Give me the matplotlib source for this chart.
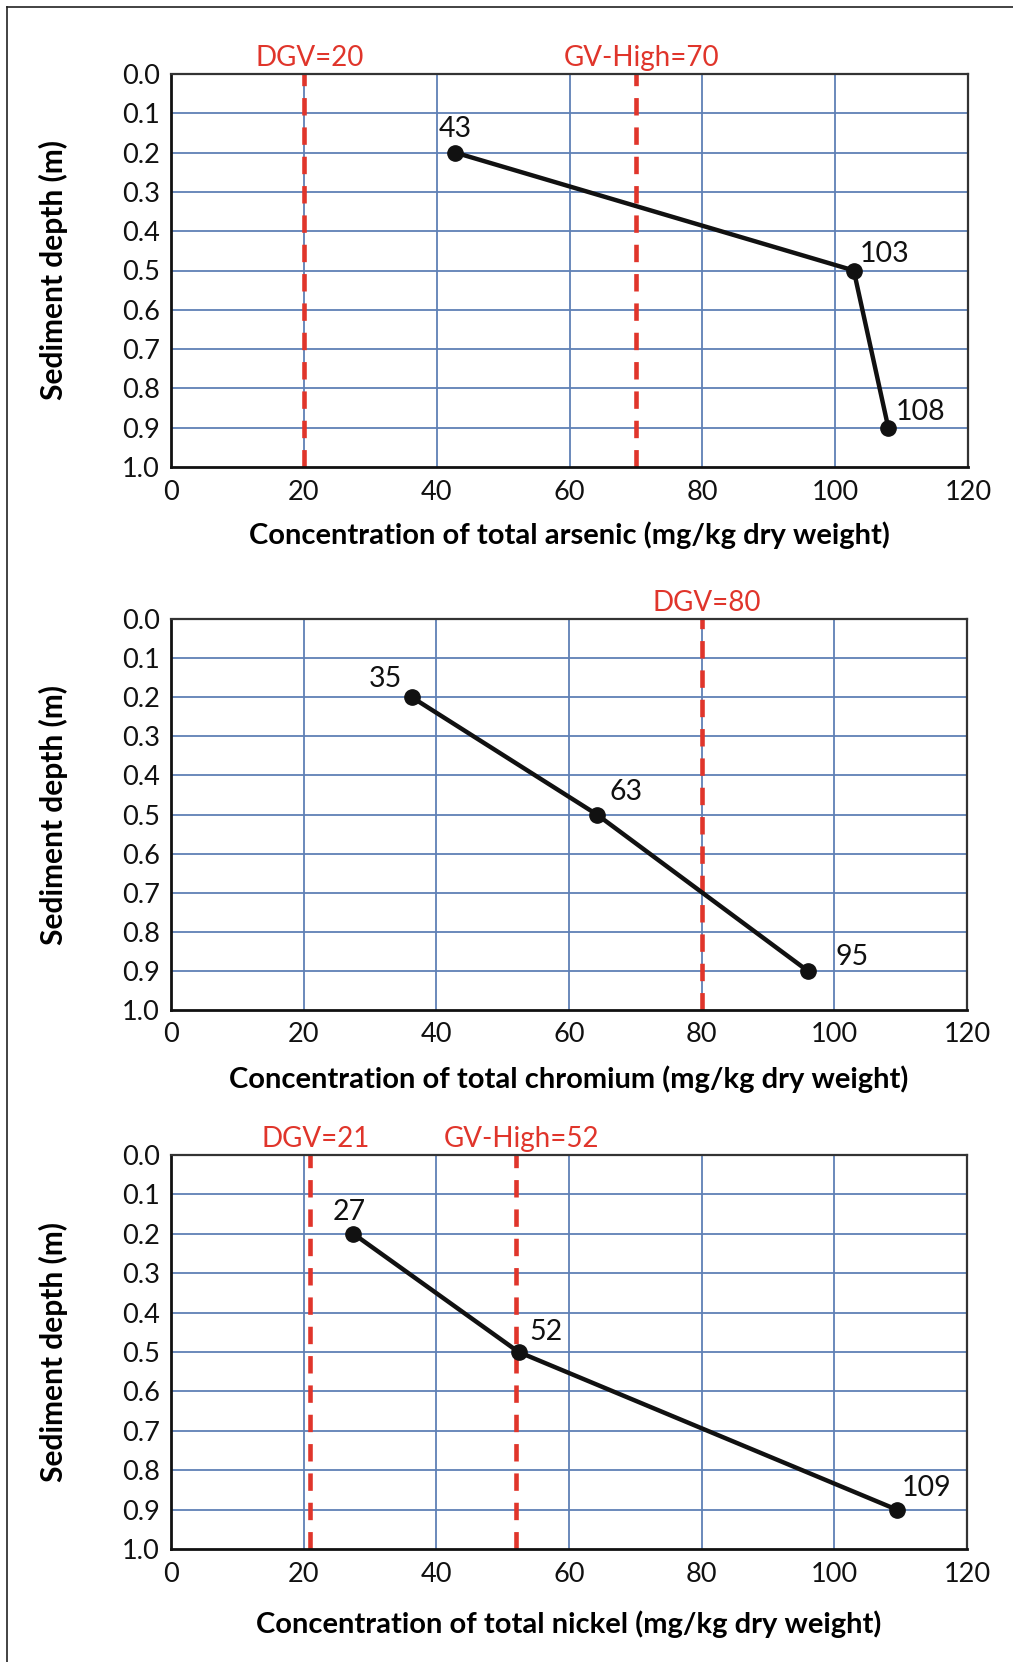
import numpy as np
import matplotlib
matplotlib.use("Agg")
import matplotlib.pyplot as plt
from matplotlib.lines import Line2D

plt.rcParams['font.family'] = ['Lato', 'DejaVu Sans']

# sediment depths (m) of the three samples
depth = [0.2, 0.5, 0.9]

# arsenic
as_x = [42.8, 102.8, 108.0]
as_lab = ['43', '103', '108']
as_guides = [20, 70]
as_guide_lab = ['DGV=20', 'GV-High=70']

# chromium
cr_x = [36.3, 64.2, 96.0]
cr_lab = ['35', '63', '95']
cr_guides = [80]
cr_guide_lab = ['DGV=80']

# nickel
ni_x = [27.5, 52.4, 109.4]
ni_lab = ['27', '52', '109']
ni_guides = [21, 52]
ni_guide_lab = ['DGV=21', 'GV-High=52']

xticks = [0, 20, 40, 60, 80, 100, 120]
yticks = [round(v, 1) for v in np.arange(0, 1.01, 0.1)]

W, H = 1013, 1662
fig = plt.figure(figsize=(W / 100, H / 100), dpi=100)

GRID = '#5f80b5'
RED = '#e0352b'


def px_axes(left, top, right, bottom):
    return fig.add_axes([left / W, 1 - bottom / H, (right - left) / W, (bottom - top) / H])


def panel(ax, xs, labs, offs, guides, glabs, xlabel, lpad):
    ax.set_xlim(0, 120)
    ax.set_ylim(1.0, 0.0)
    ax.set_xticks(xticks)
    ax.set_yticks(yticks)
    ax.set_yticklabels(['%.1f' % v for v in yticks])
    ax.tick_params(length=0, labelsize=19.5, pad=8, colors='#111111')
    ax.tick_params(axis='x', pad=9)
    for v in xticks[1:-1]:
        ax.axvline(v, color=GRID, lw=1.3, zorder=1)
    for v in yticks[1:-1]:
        ax.axhline(v, color=GRID, lw=1.3, zorder=1)
    for s in ax.spines.values():
        s.set_linewidth(1.6)
        s.set_color('#333333')
    ax.spines['left'].set_color('#111111')
    ax.spines['bottom'].set_color('#111111')
    ax.spines['left'].set_linewidth(2)
    ax.spines['bottom'].set_linewidth(2)

    for g, gl in zip(guides, glabs):
        ax.axvline(g, color=RED, lw=3.3, ls=(0, (3.8, 2.6)), zorder=2)
        ax.annotate(gl, xy=(g, 0), xytext=(4, 2), textcoords='offset points',
                    ha='center', va='bottom', color=RED, fontsize=20,
                    annotation_clip=False)

    ax.plot(xs, depth, color='#111111', lw=3.2, marker='o', ms=11, zorder=4,
            solid_capstyle='round')
    for x, y, t, o in zip(xs, depth, labs, offs):
        ax.annotate(t, xy=(x, y), xytext=o, textcoords='offset pixels',
                    ha='center', va='center', fontsize=20.5, color='#111111')

    ax.set_xlabel(xlabel, fontsize=21, fontweight='bold', labelpad=lpad)
    ax.set_ylabel('Sediment depth (m)', fontsize=21.5, fontweight='bold', labelpad=39)


ax1 = px_axes(171, 74, 968, 467)
panel(ax1, as_x, as_lab, [(0, 24), (31, 17), (32, 16)], as_guides, as_guide_lab,
      'Concentration of total arsenic (mg/kg dry weight)', 12)

ax2 = px_axes(171, 619, 967, 1010)
panel(ax2, cr_x, cr_lab, [(-26, 18), (29, 23), (44, 14)], cr_guides, cr_guide_lab,
      'Concentration of total chromium (mg/kg dry weight)', 13)

ax3 = px_axes(171, 1155, 967, 1549)
panel(ax3, ni_x, ni_lab, [(-4, 22), (27, 20), (30, 22)], ni_guides, ni_guide_lab,
      'Concentration of total nickel (mg/kg dry weight)', 17)

# outer frame (left and top edges only, the rest is cut off)
fig.add_artist(Line2D([7 / W, 7 / W], [0, 1 - 7 / H], color='#222222', lw=1.2))
fig.add_artist(Line2D([7 / W, 1], [1 - 7 / H, 1 - 7 / H], color='#222222', lw=1.2))

fig.savefig('out.png', dpi=100, facecolor='white')
